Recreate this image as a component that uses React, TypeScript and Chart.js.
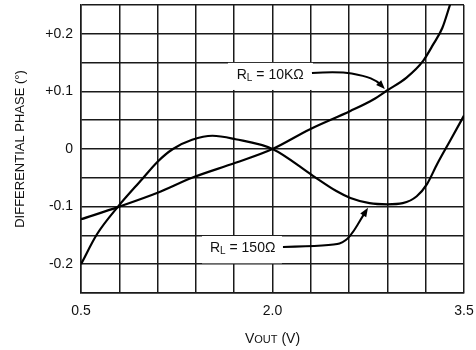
import React, { useEffect, useRef } from "react";
import { Chart, registerables } from "chart.js";

Chart.register(...registerables);

// ---- data ----
const vout150 = [0.5, 0.625, 0.79, 0.98, 1.1, 1.22, 1.37, 1.53, 1.71, 2.0, 2.32, 2.5, 2.61, 2.76, 2.9, 3.02, 3.13, 3.21, 3.29, 3.39, 3.5];
const phase150 = [-0.2, -0.148, -0.1, -0.052, -0.022, 0.0, 0.016, 0.023, 0.017, 0.0, -0.047, -0.073, -0.085, -0.094, -0.096, -0.094, -0.082, -0.061, -0.026, 0.014, 0.058];

const vout10k = [0.5, 0.8, 1.1, 1.37, 1.71, 2.0, 2.29, 2.61, 2.79, 2.9, 3.05, 3.18, 3.26, 3.33, 3.39, 3.42];
const phase10k = [-0.122, -0.1, -0.076, -0.05, -0.024, 0.0, 0.034, 0.066, 0.086, 0.102, 0.124, 0.153, 0.182, 0.21, 0.25, 0.27];

const xTickLabels = ["0.5", "2.0", "3.5"];
const yTickLabels = ["-0.2", "-0.1", "0", "+0.1", "+0.2"];

// annotation anchors in data units
const label10k = { x: 1.72, y: 0.13, boxX0: 1.651, boxX1: 2.317, boxY0: 0.1025, boxY1: 0.1495 };
const arrow10kX = [2.309, 2.52, 2.72, 2.82, 2.88];
const arrow10kY = [0.132, 0.135, 0.127, 0.118, 0.104];
const label150 = { x: 1.51, y: -0.17, boxX0: 1.448, boxX1: 2.074, boxY0: -0.1985, boxY1: -0.151 };
const arrow150X = [2.082, 2.474, 2.576, 2.638, 2.693, 2.748];
const arrow150Y = [-0.17, -0.168, -0.16, -0.142, -0.1215, -0.102];

const FONT = "'Liberation Sans', Arial, Helvetica, sans-serif";

function drawRich(ctx: CanvasRenderingContext2D, x: number, y: number, parts: { t: string; size: number; dy?: number }[], align: "left" | "center") {
  let total = 0;
  for (const p of parts) {
    ctx.font = `${p.size}px ${FONT}`;
    total += ctx.measureText(p.t).width;
  }
  let cx = align === "center" ? x - total / 2 : x;
  ctx.textBaseline = "alphabetic";
  ctx.textAlign = "left";
  for (const p of parts) {
    ctx.font = `${p.size}px ${FONT}`;
    ctx.fillText(p.t, cx, y + (p.dy || 0));
    cx += ctx.measureText(p.t).width;
  }
}

function drawArrow(chart: any, xs: number[], ys: number[]) {
  const { ctx, scales } = chart;
  const pts = xs.map((v, i) => [scales.x.getPixelForValue(v), scales.y.getPixelForValue(ys[i])]);
  ctx.save();
  ctx.strokeStyle = "#000";
  ctx.lineWidth = 2;
  ctx.beginPath();
  ctx.moveTo(pts[0][0], pts[0][1]);
  for (let i = 1; i < pts.length - 1; i++) {
    const mx = (pts[i][0] + pts[i + 1][0]) / 2;
    const my = (pts[i][1] + pts[i + 1][1]) / 2;
    ctx.quadraticCurveTo(pts[i][0], pts[i][1], mx, my);
  }
  const n = pts.length;
  const tip = pts[n - 1];
  const prev = pts[n - 2];
  const ang = Math.atan2(tip[1] - prev[1], tip[0] - prev[0]);
  const len = 9;
  const baseX = tip[0] - Math.cos(ang) * len;
  const baseY = tip[1] - Math.sin(ang) * len;
  ctx.lineTo(baseX, baseY);
  ctx.stroke();
  ctx.beginPath();
  ctx.moveTo(tip[0], tip[1]);
  ctx.lineTo(baseX + Math.cos(ang + Math.PI / 2) * 3.5, baseY + Math.sin(ang + Math.PI / 2) * 3.5);
  ctx.lineTo(baseX + Math.cos(ang - Math.PI / 2) * 3.5, baseY + Math.sin(ang - Math.PI / 2) * 3.5);
  ctx.closePath();
  ctx.fillStyle = "#000";
  ctx.fill();
  ctx.restore();
}

const annotationPlugin = {
  id: "annots",
  beforeDatasetsDraw(chart: any) {
    const { ctx, scales } = chart;
    const X = (v: number) => scales.x.getPixelForValue(v);
    const Y = (v: number) => scales.y.getPixelForValue(v);
    ctx.save();
    ctx.fillStyle = "#fff";
    for (const b of [label10k, label150]) {
      ctx.fillRect(X(b.boxX0), Y(b.boxY1), X(b.boxX1) - X(b.boxX0), Y(b.boxY0) - Y(b.boxY1));
    }
    ctx.fillStyle = "#111";
    drawRich(ctx, X(label10k.x), Y(label10k.y) + 5, [
      { t: "R", size: 14 },
      { t: "L", size: 10, dy: 2 },
      { t: " = 10K\u03A9", size: 14 },
    ], "left");
    drawRich(ctx, X(label150.x), Y(label150.y) + 5, [
      { t: "R", size: 14 },
      { t: "L", size: 10, dy: 2 },
      { t: " = 150\u03A9", size: 14 },
    ], "left");
    ctx.restore();
    drawArrow(chart, arrow10kX, arrow10kY);
    drawArrow(chart, arrow150X, arrow150Y);
  },
  afterDraw(chart: any) {
    const { ctx, chartArea } = chart;
    ctx.save();
    ctx.fillStyle = "#111";
    const cx = (chartArea.left + chartArea.right) / 2;
    drawRich(ctx, cx, 343, [
      { t: "V", size: 14 },
      { t: "OUT", size: 11 },
      { t: " (V)", size: 14 },
    ], "center");
    ctx.restore();
  },
};

export default function App() {
  const ref = useRef<HTMLCanvasElement | null>(null);
  useEffect(() => {
    if (!ref.current) return;
    const chart = new Chart(ref.current, {
      type: "line",
      data: {
        datasets: [
          {
            label: "RL = 10KΩ",
            data: vout10k.map((x, i) => ({ x, y: phase10k[i] })),
            borderColor: "#000",
            borderWidth: 2.2,
            pointRadius: 0,
            cubicInterpolationMode: "monotone",
            fill: false,
          },
          {
            label: "RL = 150Ω",
            data: vout150.map((x, i) => ({ x, y: phase150[i] })),
            borderColor: "#000",
            borderWidth: 2.2,
            pointRadius: 0,
            cubicInterpolationMode: "monotone",
            fill: false,
          },
        ],
      },
      options: {
        responsive: false,
        animation: false,
        layout: { padding: { top: 5, right: 12, left: 0, bottom: 0 } },
        plugins: { legend: { display: false }, tooltip: { enabled: false } },
        scales: {
          x: {
            type: "linear",
            min: 0.5,
            max: 3.5,
            afterFit: (s: any) => { s.height = 57; s.paddingLeft = 0; s.paddingRight = 0; },
            grid: { color: "#1a1a1a", lineWidth: 1.5, drawTicks: false },
            border: { color: "#1a1a1a", width: 1.5 },
            ticks: {
              stepSize: 0.3,
              autoSkip: false,
              maxRotation: 0,
              padding: 10,
              color: "#111",
              font: { family: FONT, size: 14 },
              callback: (_v: any, i: number) => (i % 5 === 0 ? xTickLabels[i / 5] : ""),
            },
          },
          y: {
            type: "linear",
            min: -0.25,
            max: 0.25,
            afterFit: (s: any) => { s.width = 81; s.paddingTop = 0; s.paddingBottom = 0; },
            grid: { color: "#1a1a1a", lineWidth: 1.5, drawTicks: false },
            border: { color: "#1a1a1a", width: 1.5 },
            ticks: {
              stepSize: 0.05,
              autoSkip: false,
              padding: 8,
              color: "#111",
              font: { family: FONT, size: 14 },
              callback: (_v: any, i: number) => (i % 2 === 1 ? yTickLabels[(i - 1) / 2] : ""),
            },
            title: {
              display: true,
              text: "DIFFERENTIAL PHASE (°)",
              color: "#111",
              font: { family: FONT, size: 13 },
              padding: { top: 13, bottom: 0 },
            },
          },
        },
      },
      plugins: [annotationPlugin],
    } as any);
    return () => chart.destroy();
  }, []);
  return (
    <div style={{ position: "fixed", left: 0, top: 0, width: 476, height: 350, background: "#fff" }}>
      <canvas ref={ref} width={476} height={350} style={{ width: 476, height: 350 }} />
    </div>
  );
}
